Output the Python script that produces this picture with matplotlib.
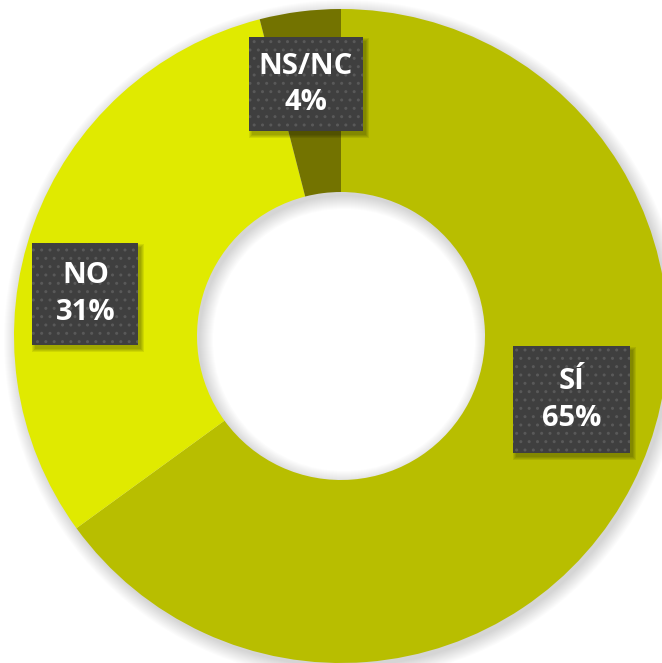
import matplotlib.pyplot as plt
from matplotlib.patches import Wedge, Rectangle
import numpy as np

# Data
categories = ['SÍ', 'NO', 'NS/NC']
values = [65, 31, 4]
colors = ['#B8BE00', '#E0EA00', '#737300']

# Geometry (pixels, figure is 662x663 at dpi 100)
cx, cy = 341, 327
R_out, R_in = 327, 144
# label box centre as (angle deg, radius px) and box size (w, h)
label_pos = [(-15.5, 239), (170.7, 259), (98.0, 254)]
box_size = [(117, 107), (106, 102), (114, 94)]

fig = plt.figure(figsize=(6.62, 6.63), dpi=100)
ax = fig.add_axes([0, 0, 1, 1])

# soft drop shadow of the ring
sx, sy = cx + 3, cy - 4
for k in range(14):
    ax.add_patch(Wedge((sx, sy), R_out + k, 0, 360, width=(R_out + k) - (R_in - k),
                       facecolor='black', alpha=0.012, linewidth=0, zorder=1))

ax.pie(values, colors=colors, startangle=90, counterclock=False,
       center=(cx, cy), radius=R_out, frame=True,
       wedgeprops=dict(width=R_out - R_in, linewidth=0, zorder=2))
ax.set_xlim(0, 662)
ax.set_ylim(0, 663)
ax.set_aspect('equal')
ax.axis('off')

# data labels
for cat, val, (ang, rad), (w, h) in zip(categories, values, label_pos, box_size):
    x = cx + rad * np.cos(np.radians(ang))
    y = cy + rad * np.sin(np.radians(ang))
    for k in range(4):
        ax.add_patch(Rectangle((x - w / 2 + 3 - k, y - h / 2 - 4 - k), w + 2 * k, h + 2 * k,
                               facecolor='black', alpha=0.08, linewidth=0, zorder=3))
    ax.add_patch(Rectangle((x - w / 2, y - h / 2), w, h, facecolor='#3F3F3F',
                           edgecolor='#595959', hatch='..', linewidth=0, zorder=4))
    ax.text(x, y, f'{cat}\n{val}%', ha='center', va='center', color='white',
            fontsize=21, fontweight='bold', family='Open Sans', linespacing=1.35,
            zorder=5)

fig.savefig('out.png', dpi=100)
